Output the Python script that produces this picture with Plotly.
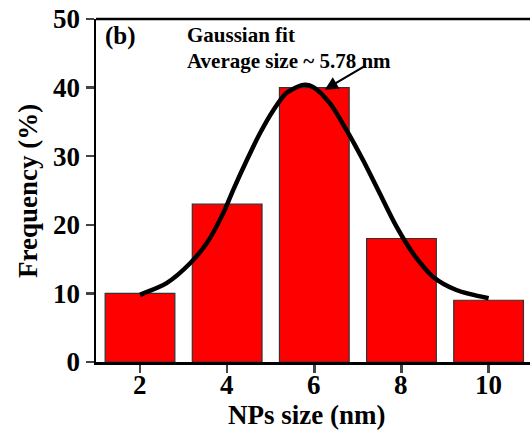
import plotly.graph_objects as go

sizes = [2, 4, 6, 8, 10]
freq = [10, 23, 40, 18, 9]

fit_x = [2.0, 2.08, 2.61, 3.15, 3.53, 3.91, 4.14, 4.45, 4.75, 5.06, 5.36, 5.75, 5.97, 6.36,
         6.74, 7.12, 7.50, 7.89, 8.27, 8.73, 9.26, 10.0]
fit_y = [9.8, 10.0, 11.5, 14.4, 17.3, 21.7, 25.1, 29.4, 33.3, 36.7, 39.2, 40.4, 40.1, 37.7,
         33.8, 29.4, 24.6, 19.7, 15.8, 12.4, 10.5, 9.3]

y_ticks = [0, 10, 20, 30, 40, 50]
x_ticks = [2, 4, 6, 8, 10]
x_tick_labels = ["2", "4", "6", "8", "10"]

FONT = "Liberation Serif"

fig = go.Figure()
fig.add_trace(go.Bar(
    x=sizes, y=freq, width=1.6,
    marker=dict(color="#ff0000", line=dict(color="#333333", width=1.2)),
    showlegend=False, hoverinfo="skip",
))
fig.add_trace(go.Scatter(
    x=fit_x, y=fit_y, mode="lines",
    line=dict(color="black", width=4.5, shape="spline", smoothing=0.8),
    showlegend=False, hoverinfo="skip",
))

# top frame line
fig.add_shape(type="line", xref="paper", yref="paper", x0=0, x1=1, y0=1, y1=1,
              line=dict(color="black", width=2.5))

fig.add_annotation(x=1.15, y=47.5, xref="x", yref="y", text="(b)", showarrow=False,
                   xanchor="left", yanchor="middle",
                   font=dict(family=FONT, size=25, color="black", weight="bold"))
fig.add_annotation(x=3.03, y=47.6, xref="x", yref="y", text="Gaussian fit", showarrow=False,
                   xanchor="left", yanchor="middle",
                   font=dict(family=FONT, size=21, color="black", weight="bold"))
fig.add_annotation(x=3.03, y=43.9, xref="x", yref="y", text="Average size ~ 5.78 nm", showarrow=False,
                   xanchor="left", yanchor="middle",
                   font=dict(family=FONT, size=21, color="black", weight="bold"))
fig.add_annotation(x=6.24, y=39.7, ax=7.2, ay=43.3, xref="x", yref="y", axref="x", ayref="y",
                   text="", showarrow=True, arrowhead=2, arrowsize=1.2, arrowwidth=2.2,
                   arrowcolor="black")

# x tick labels
for xv, lab in zip(x_ticks, x_tick_labels):
    fig.add_annotation(x=xv, y=-0.067, xref="x", yref="paper", text=lab, showarrow=False,
                       xanchor="center", yanchor="middle",
                       font=dict(family=FONT, size=27, color="black", weight="bold"))

# axis titles
fig.add_annotation(x=0.486, y=-0.155, xref="paper", yref="paper", text="NPs size (nm)",
                   showarrow=False, xanchor="center", yanchor="middle",
                   font=dict(family=FONT, size=27, color="black", weight="bold"))
fig.add_annotation(x=-0.158, y=0.5, xref="paper", yref="paper", text="Frequency (%)",
                   showarrow=False, xanchor="center", yanchor="middle", textangle=-90,
                   font=dict(family=FONT, size=27, color="black", weight="bold"))

fig.update_layout(
    width=530, height=431,
    margin=dict(l=96, r=0, t=19, b=69, autoexpand=False),
    plot_bgcolor="white", paper_bgcolor="white",
    bargap=0, hovermode=False, dragmode=False,
    font=dict(family=FONT, color="black"),
    xaxis=dict(
        range=[0.99, 10.95], tickvals=x_ticks, ticks="outside", ticklen=8, tickwidth=2.5,
        showticklabels=False, fixedrange=True,
        showline=True, linewidth=2.5, linecolor="black", mirror=False, showgrid=False, zeroline=False,
        automargin=False,
    ),
    yaxis=dict(
        range=[0, 50], tickvals=y_ticks, ticks="outside", ticklen=8, tickwidth=2.5,
        showline=True, linewidth=2.5, linecolor="black", showgrid=False, zeroline=False,
        automargin=False, fixedrange=True,
        tickfont=dict(family=FONT, size=27, color="black", weight="bold"),
    ),
)

fig.write_html(
    "out.html",
    config={"displayModeBar": False, "staticPlot": True},
    post_script="document.body.style.margin='0';document.body.style.padding='0';"
                "document.documentElement.style.overflow='hidden';",
)
